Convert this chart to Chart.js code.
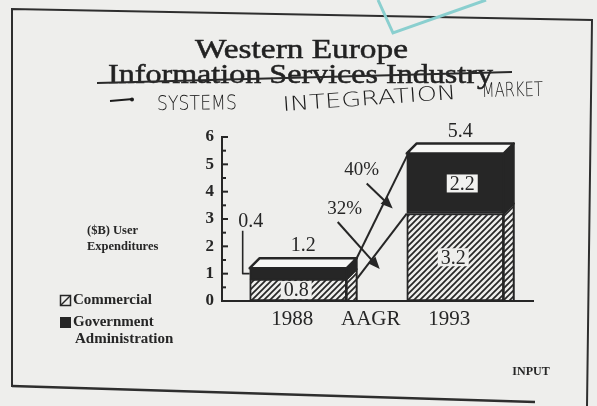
<!DOCTYPE html>
<html><head><meta charset="utf-8">
<script src="https://cdn.jsdelivr.net/npm/chart.js@4.4.1/dist/chart.umd.min.js"></script>
<style>html,body{margin:0;padding:0;background:#eeeeec;overflow:hidden}#wrap{width:597px;height:406px;position:relative}</style>
</head><body><div id="wrap"><canvas id="c" width="597" height="406"></canvas></div>
<script>
// ---- data ----
const titleLines = ['Western Europe', 'Information Services Industry'];
const subtitleWords = ['SYSTEMS', 'INTEGRATION', 'MARKET'];
const categories = ['1988', 'AAGR', '1993'];
const commercial = [0.8, null, 3.2];
const government = [0.4, null, 2.2];
const totals = [1.2, null, 5.4];
const growthLabels = ['32%', '40%']; // commercial, government
const yTicks = [0, 1, 2, 3, 4, 5, 6];
const seriesNames = [['Commercial'], ['Government', 'Administration']];
const yTitle = ['($B) User', 'Expenditures'];
const sourceNote = 'INPUT';

// ---- styles ----
const INK = '#262626';
const PAPER = '#eeeeec';
const SERIF = '"Liberation Serif", "DejaVu Serif", serif';
const HAND = '"DejaVu Sans", sans-serif';
const D = 10; // 3D depth

function makeHatch() {
  const s = 6, c = document.createElement('canvas');
  c.width = s; c.height = s;
  const g = c.getContext('2d');
  g.fillStyle = PAPER; g.fillRect(0, 0, s, s);
  g.strokeStyle = INK; g.lineWidth = 1.7;
  g.beginPath();
  g.moveTo(-1, 1); g.lineTo(1, -1);
  g.moveTo(0, s); g.lineTo(s, 0);
  g.moveTo(s - 1, s + 1); g.lineTo(s + 1, s - 1);
  g.stroke();
  return g.createPattern(c, 'repeat');
}
const hatch = makeHatch();

const idxs = categories.map((_, i) => i).filter(i => commercial[i] != null);
const pts = arr => idxs.map(i => ({ x: i, y: arr[i] }));

function poly(ctx, p, fill, lw) {
  ctx.beginPath(); ctx.moveTo(p[0][0], p[0][1]);
  for (let i = 1; i < p.length; i++) ctx.lineTo(p[i][0], p[i][1]);
  ctx.closePath();
  if (fill) { ctx.fillStyle = fill; ctx.fill(); }
  ctx.lineWidth = lw || 2; ctx.strokeStyle = INK; ctx.stroke();
}
function fitText(ctx, text, x0, x1, baseline, font, rot, strokeW) {
  ctx.save(); ctx.font = font; ctx.textAlign = 'left'; ctx.textBaseline = 'alphabetic';
  const w = ctx.measureText(text).width;
  ctx.translate(x0, baseline); if (rot) ctx.rotate(rot);
  ctx.scale((x1 - x0) / w, 1); ctx.fillText(text, 0, 0);
  if (strokeW) { ctx.lineWidth = strokeW; ctx.strokeStyle = ctx.fillStyle; ctx.strokeText(text, 0, 0); }
  ctx.restore();
}
function arrow(ctx, x0, y0, x1, y1) {
  const a = Math.atan2(y1 - y0, x1 - x0), L = 12, W = 5;
  ctx.beginPath(); ctx.moveTo(x0, y0); ctx.lineTo(x1 - Math.cos(a) * L * 0.6, y1 - Math.sin(a) * L * 0.6);
  ctx.lineWidth = 2; ctx.strokeStyle = INK; ctx.stroke();
  ctx.beginPath(); ctx.moveTo(x1, y1);
  ctx.lineTo(x1 - Math.cos(a) * L - Math.sin(a) * W, y1 - Math.sin(a) * L + Math.cos(a) * W);
  ctx.lineTo(x1 - Math.cos(a) * L + Math.sin(a) * W, y1 - Math.sin(a) * L - Math.cos(a) * W);
  ctx.closePath(); ctx.fillStyle = INK; ctx.fill();
}
function labelBox(ctx, text, x, y, font, bg) {
  ctx.font = font; const w = ctx.measureText(text).width;
  ctx.fillStyle = bg; ctx.fillRect(x - w / 2 - 3, y - 9, w + 6, 18);
  ctx.fillStyle = INK; ctx.textAlign = 'center'; ctx.textBaseline = 'middle'; ctx.fillText(text, x, y + 1);
}

const deco = {
  id: 'deco',
  beforeDraw(chart) {
    const ctx = chart.ctx;
    ctx.save();
    ctx.fillStyle = PAPER; ctx.fillRect(0, 0, chart.width, chart.height);
    ctx.strokeStyle = '#2e2e2e'; ctx.lineWidth = 2;
    ctx.beginPath(); ctx.moveTo(12, 387); ctx.lineTo(12, 9); ctx.lineTo(592, 20); ctx.lineTo(587, 406); ctx.stroke();
    ctx.beginPath(); ctx.moveTo(12, 386); ctx.lineTo(535, 402); ctx.lineWidth = 2.5; ctx.stroke();
    ctx.strokeStyle = '#8acfcf'; ctx.lineWidth = 3;
    ctx.beginPath(); ctx.moveTo(378, 0); ctx.lineTo(393, 33); ctx.lineTo(486, 0); ctx.stroke();
    ctx.restore();
  },
  afterDatasetsDraw(chart) {
    const ctx = chart.ctx, xs = chart.scales.x;
    const mc = chart.getDatasetMeta(0).data, mg = chart.getDatasetMeta(1).data;
    const bars = idxs.map((ci, k) => {
      const c = mc[k].getProps(['x', 'y', 'base', 'width'], true);
      const g = mg[k].getProps(['x', 'y', 'base', 'width'], true);
      return { ci, x: c.x, L: c.x - c.width / 2, R: c.x + c.width / 2, base: c.base, cT: c.y, gT: g.y };
    });
    ctx.save(); ctx.lineJoin = 'round';
    bars.forEach(b => {
      poly(ctx, [[b.R, b.cT], [b.R + D, b.cT - D], [b.R + D, b.base], [b.R, b.base]], hatch, 2);
      poly(ctx, [[b.R, b.gT], [b.R + D, b.gT - D], [b.R + D, b.cT - D], [b.R, b.cT]], INK, 2);
      poly(ctx, [[b.L, b.gT], [b.L + D, b.gT - D], [b.R + D, b.gT - D], [b.R, b.gT]], '#f7f7f5', 2.5);
    });
    // value labels
    const vf = '20px ' + SERIF;
    bars.forEach(b => {
      const i = b.ci;
      ctx.font = vf; ctx.fillStyle = INK; ctx.textAlign = 'center'; ctx.textBaseline = 'middle';
      ctx.fillText(totals[i].toFixed(1), b.x + D / 2, b.gT - D - 12);
      labelBox(ctx, commercial[i].toFixed(1), b.x - 2, (b.cT + b.base) / 2, vf, PAPER);
      const gm = (b.gT + b.cT) / 2;
      if (b.cT - b.gT > 22) {
        labelBox(ctx, government[i].toFixed(1), b.x + 7, gm, vf, '#f2f2f0');
      } else {
        const lx = b.L - 7;
        ctx.beginPath(); ctx.moveTo(b.L, gm); ctx.lineTo(lx, gm); ctx.lineTo(lx, gm - 43);
        ctx.lineWidth = 1.6; ctx.strokeStyle = INK; ctx.stroke();
        ctx.font = vf; ctx.fillStyle = INK; ctx.textAlign = 'center'; ctx.textBaseline = 'middle';
        ctx.fillText(government[i].toFixed(1), b.L + 1, gm - 52);
      }
    });
    // growth lines
    const b1 = bars[0], b2 = bars[1];
    const P1 = [b1.R + D, b1.gT - D], P2 = [b2.L + 3, b2.gT - 3];
    const Q1 = [b1.R + D, b1.cT], Q2 = [b2.L, b2.cT];
    ctx.lineWidth = 2; ctx.strokeStyle = INK;
    ctx.beginPath(); ctx.moveTo(P1[0], P1[1]); ctx.lineTo(P2[0], P2[1]); ctx.stroke();
    ctx.beginPath(); ctx.moveTo(Q1[0], Q1[1]); ctx.lineTo(Q2[0], Q2[1]); ctx.stroke();
    const at = (A, B, x) => A[1] + (B[1] - A[1]) * (x - A[0]) / (B[0] - A[0]);
    const xA = xs.getPixelForValue(1);
    const gx = xA + 16, gy = (at(P1, P2, gx) + at(Q1, Q2, gx)) / 2;
    const cx = xA + 3, cy = (at(Q1, Q2, cx) + b1.base) / 2 - 6;
    arrow(ctx, gx - 26, gy - 25, gx, gy);
    arrow(ctx, cx - 42, cy - 47, cx, cy);
    ctx.font = '19px ' + SERIF; ctx.fillStyle = INK; ctx.textAlign = 'center'; ctx.textBaseline = 'middle';
    ctx.fillText(growthLabels[1], gx - 31, gy - 38);
    ctx.fillText(growthLabels[0], cx - 35, cy - 60);
    ctx.restore();
  },
  afterDraw(chart) {
    const ctx = chart.ctx, ys = chart.scales.y;
    ctx.save();
    // inner y ticks
    ctx.strokeStyle = INK; ctx.lineWidth = 2;
    const ax = chart.chartArea.left;
    for (let v = 0; v <= 6; v += 0.5) {
      const y = ys.getPixelForValue(v);
      ctx.beginPath(); ctx.moveTo(ax, y); ctx.lineTo(ax + (v % 1 === 0 ? 6 : 4), y); ctx.stroke();
    }
    // titles
    ctx.fillStyle = '#222';
    fitText(ctx, titleLines[0], 195, 408, 58, '28px ' + SERIF, 0, 0.5);
    fitText(ctx, titleLines[1], 108, 493, 83, '28px ' + SERIF, 0, 0.5);
    ctx.beginPath(); ctx.moveTo(97, 83); ctx.lineTo(512, 72); ctx.lineWidth = 2; ctx.strokeStyle = '#2a2a2a'; ctx.stroke();
    // handwritten subtitle
    ctx.fillStyle = '#1c1c1c'; ctx.strokeStyle = '#1c1c1c';
    ctx.beginPath(); ctx.moveTo(110, 101); ctx.lineTo(133, 99); ctx.lineWidth = 2; ctx.stroke();
    ctx.beginPath(); ctx.arc(132, 99.5, 2, 0, Math.PI * 2); ctx.fill();
    const hf = '200 20px ' + HAND;
    fitText(ctx, subtitleWords[0], 157, 237, 110, hf, -0.01);
    fitText(ctx, subtitleWords[1], 283, 457, 111, hf, -0.07);
    fitText(ctx, subtitleWords[2], 482, 543, 97, hf, -0.02);
    // y axis title
    ctx.fillStyle = INK; ctx.textAlign = 'left'; ctx.textBaseline = 'alphabetic';
    ctx.font = 'bold 12.5px ' + SERIF;
    ctx.fillText(yTitle[0], 87, 234);
    ctx.fillText(yTitle[1], 87, 250);
    // legend
    ctx.lineWidth = 1.5; ctx.strokeStyle = INK;
    ctx.strokeRect(60.5, 295.5, 10, 10);
    ctx.beginPath(); ctx.moveTo(61, 305); ctx.lineTo(70, 296); ctx.stroke();
    ctx.fillStyle = INK; ctx.fillRect(60, 317, 11, 11);
    ctx.font = 'bold 15px ' + SERIF; ctx.textBaseline = 'middle';
    ctx.fillText(seriesNames[0][0], 73, 300);
    ctx.fillText(seriesNames[1][0], 73, 322);
    ctx.fillText(seriesNames[1][1], 75, 339);
    // source
    ctx.font = 'bold 12px ' + SERIF; ctx.textAlign = 'center';
    ctx.fillText(sourceNote, 531, 372);
    ctx.restore();
  }
};

new Chart(document.getElementById('c').getContext('2d'), {
  type: 'bar',
  data: {
    datasets: [
      { label: seriesNames[0].join(' '), data: pts(commercial), backgroundColor: hatch, borderColor: INK, borderWidth: 2, borderSkipped: false, barThickness: 97 },
      { label: seriesNames[1].join(' '), data: pts(government), backgroundColor: INK, borderColor: INK, borderWidth: 2, borderSkipped: false, barThickness: 97 }
    ]
  },
  options: {
    responsive: false, animation: false, devicePixelRatio: 1,
    layout: { padding: { left: 182, top: 137, right: 64, bottom: 0 } },
    plugins: { legend: { display: false }, tooltip: { enabled: false } },
    scales: {
      x: {
        type: 'linear', stacked: true, min: -0.97, max: 2.99, offset: false,
        afterBuildTicks: s => { s.ticks = categories.map((c, i) => ({ value: i })); },
        ticks: { callback: v => categories[v] ?? '', font: { family: SERIF, size: 21 }, color: INK, padding: 6, autoSkip: false, maxRotation: 0, labelOffset: -6 },
        grid: { display: false, drawTicks: false, offset: false },
        border: { display: true, color: INK, width: 2 },
        afterFit: s => { s.height = 105; }
      },
      y: {
        stacked: true, min: 0, max: 6,
        afterBuildTicks: s => { s.ticks = yTicks.map(v => ({ value: v })); },
        ticks: { font: { family: SERIF, size: 17, weight: 'bold' }, color: INK, padding: 8 },
        grid: { display: false, drawTicks: false },
        border: { display: true, color: INK, width: 2 },
        afterFit: s => { s.width = 40; }
      }
    }
  },
  plugins: [deco]
});
</script></body></html>
